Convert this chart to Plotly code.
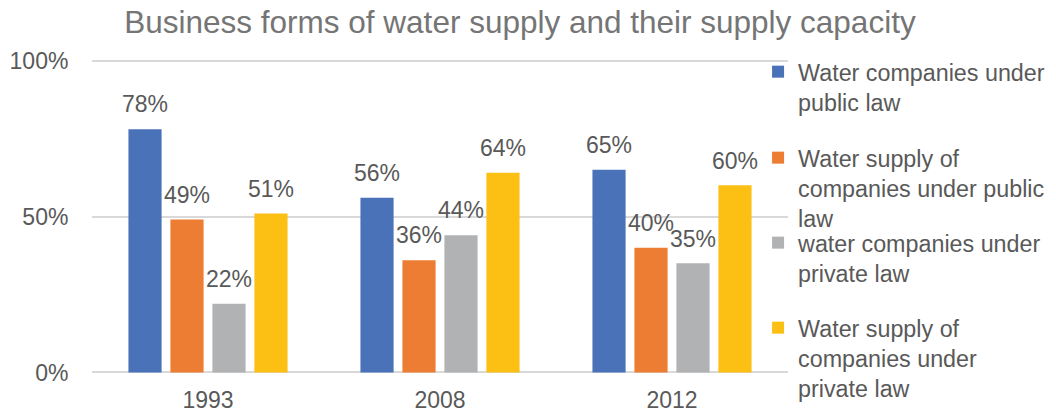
import plotly.graph_objects as go

years = ["1993", "2008", "2012"]
series_names = [
    "Water companies under<br>public law",
    "Water supply of<br>companies under public<br>law",
    "water companies under<br>private law",
    "Water supply of<br>companies under<br>private law",
]
public_companies = [0.78, 0.56, 0.65]
public_supply = [0.49, 0.36, 0.40]
private_companies = [0.22, 0.44, 0.35]
private_supply = [0.51, 0.64, 0.60]
series_values = [public_companies, public_supply, private_companies, private_supply]
colors = ["#4A72B8", "#ED7D32", "#B1B2B4", "#FCBF14"]
y_ticks = [0, 0.5, 1.0]
y_tick_labels = ["0%", "50%", "100%"]

FONT = "Liberation Sans, Arial, sans-serif"
TEXT = "#595959"

legend_ids = ["legend", "legend2", "legend3", "legend4"]
legend_y = [1.0285, 0.7555, 0.4857, 0.2158]

fig = go.Figure()
for name, vals, col, lid in zip(series_names, series_values, colors, legend_ids):
    fig.add_trace(go.Bar(
        x=years, y=vals, name=name,
        marker=dict(color=col, line=dict(width=0)),
        legend=lid,
    ))

# data labels, grouped like the bars so they sit above each bar
for name, vals in zip(series_names, series_values):
    fig.add_trace(go.Scatter(
        x=years, y=vals, mode="markers+text",
        text=[f"{round(v*100)}%" for v in vals], textposition="top center",
        textfont=dict(size=23, color=TEXT, family=FONT),
        marker=dict(size=16, color="rgba(0,0,0,0)"),
        showlegend=False, hoverinfo="skip", cliponaxis=False,
    ))

layout_legends = {}
for lid, ly in zip(legend_ids, legend_y):
    layout_legends[lid] = dict(
        x=0.957, xanchor="left", y=ly, yanchor="top",
        font=dict(size=23.3, color=TEXT, family=FONT),
        bgcolor="rgba(0,0,0,0)", borderwidth=0, valign="top",
        itemclick=False, itemdoubleclick=False,
    )

fig.update_layout(
    width=1056, height=414,
    margin=dict(l=92, r=268, t=59, b=40, autoexpand=False),
    paper_bgcolor="white", plot_bgcolor="white",
    barmode="group", bargap=0.276, bargroupgap=0.21,
    scattermode="group", scattergap=0.276,
    showlegend=True,
    title=dict(
        text="Business forms of water supply and their supply capacity",
        x=0.4924, xref="container", xanchor="center",
        y=0.947, yref="container", yanchor="middle",
        font=dict(size=31.5, color="#757575", family=FONT),
    ),
    font=dict(family=FONT, color=TEXT),
    xaxis=dict(
        showgrid=False, showline=False, zeroline=False,
        ticks="outside", ticklen=5, tickcolor="rgba(0,0,0,0)",
        tickfont=dict(size=23, color=TEXT, family=FONT),
    ),
    yaxis=dict(
        range=[-0.005, 1.005], tickvals=y_ticks, ticktext=y_tick_labels,
        showgrid=True, gridcolor="#D9D9D9", gridwidth=1.5,
        zeroline=False, showline=False,
        ticks="outside", ticklen=18, tickcolor="rgba(0,0,0,0)",
        tickfont=dict(size=23, color=TEXT, family=FONT),
    ),
    **layout_legends,
)

fig.write_html(
    "out.html",
    config={"displayModeBar": False},
    post_script="document.body.style.margin='0';",
)
